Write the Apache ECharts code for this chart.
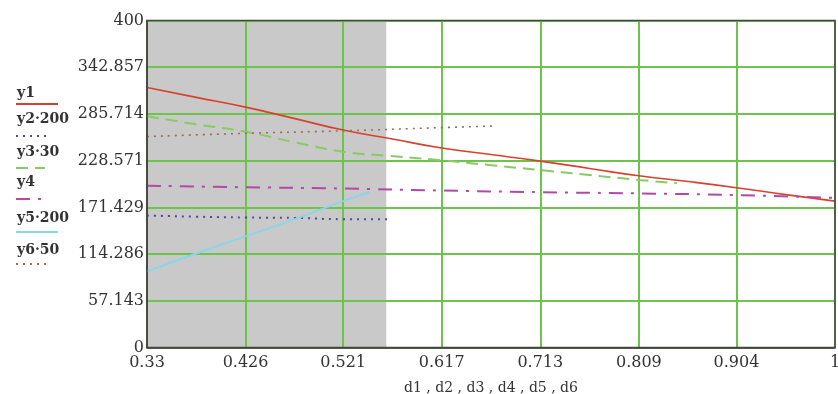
<!DOCTYPE html>
<html><head><meta charset="utf-8">
<script src="https://cdn.jsdelivr.net/npm/echarts@6/dist/echarts.min.js"></script>
<style>html,body{margin:0;padding:0;background:#fff}#c{width:838px;height:394px}</style>
</head><body><div id="c"></div>
<script>
// ---- data ----
const xTickValues = [0.33, 0.426, 0.521, 0.617, 0.713, 0.809, 0.904, 1.0];
const xTickLabels = ['0.33', '0.426', '0.521', '0.617', '0.713', '0.809', '0.904', '1'];
const yTickLabels = ['0', '57.143', '114.286', '171.429', '228.571', '285.714', '342.857', '400'];
const solutionArea = [0.33, 0.563];

const y1 = [[0.33, 318], [0.378, 306], [0.426, 294], [0.474, 280], [0.521, 266], [0.569, 255], [0.617, 244], [0.665, 236], [0.713, 228], [0.761, 219], [0.809, 210], [0.857, 203], [0.904, 195.5], [0.952, 187], [1.0, 179]];
const y2 = [[0.33, 161.5], [0.378, 160], [0.426, 159], [0.474, 158.5], [0.521, 157], [0.565, 157]];
const y3 = [[0.33, 283], [0.378, 273], [0.426, 264], [0.474, 251], [0.521, 239.5], [0.565, 234.5], [0.617, 229], [0.665, 223], [0.713, 217], [0.761, 211], [0.809, 205], [0.846, 201]];
const y4 = [[0.33, 198], [0.426, 196], [0.521, 194.5], [0.617, 192], [0.713, 190], [0.809, 188.5], [0.904, 186.5], [1.0, 183]];
const y5 = [[0.33, 93], [0.378, 115], [0.426, 136], [0.474, 157], [0.521, 179], [0.547, 190.6]];
const y6 = [[0.33, 258], [0.426, 262], [0.521, 265], [0.617, 269], [0.671, 271]];

const seriesNames = ['y1', 'y2·200', 'y3·30', 'y4', 'y5·200', 'y6·50'];
const seriesData = [y1, y2, y3, y4, y5, y6];
const seriesColors = ['#d8412e', '#4a4a9c', '#86cc63', '#b448a6', '#8ad6e6', '#9c6b57'];
const seriesDash = ['solid', [2, 5], [12, 7], [14, 8, 3, 8], 'solid', [2, 5]];
const seriesWidth = [1.6, 2, 2, 2, 2, 1.6];
const legendSampleLen = [42, 34, 29, 27, 42, 34];

const chart = echarts.init(document.getElementById('c'), null, {renderer: 'canvas'});
const serif = 'DejaVu Serif';

const series = [{
  type: 'line', data: [], z: 1, silent: true,
  markArea: {
    silent: true,
    itemStyle: {color: '#c9c9c9'},
    data: [[{xAxis: solutionArea[0]}, {xAxis: solutionArea[1]}]]
  }
}];
seriesNames.forEach((n, i) => {
  series.push({
    name: n, type: 'line', data: seriesData[i], smooth: true, showSymbol: false, z: 3,
    lineStyle: {color: seriesColors[i], width: seriesWidth[i], type: seriesDash[i]},
    itemStyle: {color: seriesColors[i]}
  });
});

const legendTextY = [93, 119, 152, 182, 218, 250];
const legendLineY = [104, 136, 168, 199, 232, 264];
const graphic = [{
  type: 'text', x: 181, y: 85,
  style: {text: 'Area of solutions', font: '24px "Liberation Serif"', fill: '#111', verticalAlign: 'middle'}
}];
seriesNames.forEach((n, i) => {
  graphic.push({
    type: 'text', x: 17, y: legendTextY[i],
    style: {text: n, font: 'bold 14px "DejaVu Serif"', fill: '#333', verticalAlign: 'middle'}
  });
  graphic.push({
    type: 'line', shape: {x1: 16, y1: legendLineY[i], x2: 16 + legendSampleLen[i], y2: legendLineY[i]},
    style: {stroke: seriesColors[i], lineWidth: 2, lineDash: seriesDash[i] === 'solid' ? null : seriesDash[i]}
  });
});

chart.setOption({
  animation: false,
  grid: {left: 147, right: 3, top: 20.5, bottom: 46.5, outerBoundsMode: 'none', containLabel: false,
    show: true, borderColor: '#444', borderWidth: 1.5, z: 4, backgroundColor: 'transparent'},
  xAxis: {
    type: 'value', min: 0.33, max: 1.0, z: 2,
    name: 'd1 , d2 , d3 , d4 , d5 , d6', nameLocation: 'middle', nameGap: 34,
    nameTextStyle: {fontFamily: serif, fontSize: 14, color: '#333'},
    axisLine: {show: true, lineStyle: {color: '#444', width: 1.5}},
    axisTick: {show: false, customValues: xTickValues},
    axisLabel: {customValues: xTickValues, fontFamily: serif, fontSize: 16, color: '#333', margin: 7,
      formatter: v => xTickLabels[xTickValues.indexOf(v)] ?? ''},
    splitLine: {show: true, lineStyle: {color: '#6cc44a', width: 2}}
  },
  yAxis: {
    type: 'value', min: 0, max: 400, interval: 400 / 7, z: 2,
    axisLine: {show: true, lineStyle: {color: '#444', width: 1.5}},
    axisTick: {show: false},
    axisLabel: {fontFamily: serif, fontSize: 16, color: '#333', margin: 3,
      formatter: v => yTickLabels[Math.round(v / (400 / 7))]},
    splitLine: {show: true, lineStyle: {color: '#6cc44a', width: 2}}
  },
  series: series,
  graphic: graphic
});
</script></body></html>
